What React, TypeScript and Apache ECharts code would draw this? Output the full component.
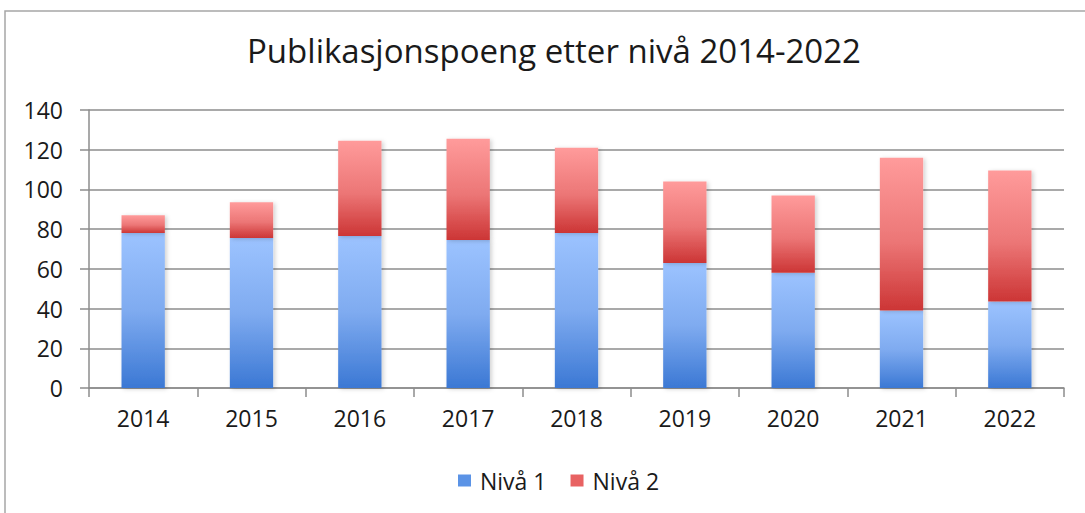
import React, { useEffect, useRef } from "react";
import * as echarts from "echarts";

const categories = ["2014", "2015", "2016", "2017", "2018", "2019", "2020", "2021", "2022"];
const niva1 = [78, 75.5, 76.5, 74.5, 78, 63, 58, 39, 43.5];
const niva2 = [9, 18, 48, 51, 43, 41, 39, 77, 66];
const titleText = "Publikasjonspoeng etter nivå 2014-2022";
const seriesNames = ["Nivå 1", "Nivå 2"];

const FONT = "'Open Sans', 'Liberation Sans', sans-serif";

export default function App() {
  const ref = useRef<HTMLDivElement>(null);
  useEffect(() => {
    document.body.style.margin = "0";
    if (!ref.current) return;
    const chart = echarts.init(ref.current, null, { renderer: "svg" });
    const blue = new echarts.graphic.LinearGradient(0, 0, 0, 1, [
      { offset: 0, color: "#9cc3ff" },
      { offset: 0.5, color: "#7fabf0" },
      { offset: 1, color: "#3b78d4" },
    ]);
    const red = new echarts.graphic.LinearGradient(0, 0, 0, 1, [
      { offset: 0, color: "#ff9b9b" },
      { offset: 0.55, color: "#ec7676" },
      { offset: 1, color: "#cc3535" },
    ]);
    const shadow = {
      shadowBlur: 4,
      shadowOffsetX: 2,
      shadowOffsetY: 1,
      shadowColor: "rgba(0,0,0,0.18)",
    };
    chart.setOption({
      animation: false,
      backgroundColor: "#ffffff",
      textStyle: { fontFamily: FONT },
      title: {
        text: titleText,
        left: 549,
        textAlign: "center",
        top: 29,
        textStyle: { fontFamily: FONT, fontSize: 33, fontWeight: "normal", color: "#1a1a1a" },
      },
      graphic: [
        {
          type: "rect",
          shape: { x: 5, y: 11, width: 1200, height: 700 },
          style: { fill: "none", stroke: "#a6a6a6", lineWidth: 1.5 },
          silent: true,
          z: -10,
        },
      ],
      legend: {
        data: seriesNames.map((n, i) => ({
          name: n,
          itemStyle: { color: i === 0 ? "#5b93e6" : "#e86262" },
        })),
        left: 453,
        top: 464,
        itemWidth: 13,
        itemHeight: 12,
        itemGap: 24,
        icon: "rect",
        textStyle: { fontFamily: FONT, fontSize: 23, color: "#1a1a1a", padding: [0, 0, 0, 4] },
      },
      grid: { left: 89, right: 21, top: 110, bottom: 125 },
      xAxis: {
        type: "category",
        data: categories,
        axisLine: { lineStyle: { color: "#8c8c8c", width: 1.5 } },
        axisTick: { show: true, length: 9, alignWithLabel: false, lineStyle: { color: "#8c8c8c", width: 1.5 } },
        axisLabel: { margin: 18, fontFamily: FONT, fontSize: 23, color: "#1a1a1a" },
      },
      yAxis: {
        type: "value",
        min: 0,
        max: 140,
        interval: 20,
        axisLine: { show: true, lineStyle: { color: "#8c8c8c", width: 1.5 } },
        axisTick: { show: true, length: 9, lineStyle: { color: "#8c8c8c", width: 1.5 } },
        splitLine: { lineStyle: { color: "#8c8c8c", width: 1.5 } },
        axisLabel: { margin: 26, fontFamily: FONT, fontSize: 23, color: "#1a1a1a" },
      },
      series: [
        {
          name: seriesNames[0],
          type: "bar",
          stack: "total",
          data: niva1,
          barWidth: "40%",
          itemStyle: { color: blue, ...shadow },
        },
        {
          name: seriesNames[1],
          type: "bar",
          stack: "total",
          data: niva2,
          barWidth: "40%",
          itemStyle: { color: red, ...shadow },
        },
      ],
    });
    return () => chart.dispose();
  }, []);
  return <div ref={ref} style={{ width: 1085, height: 513 }} />;
}
